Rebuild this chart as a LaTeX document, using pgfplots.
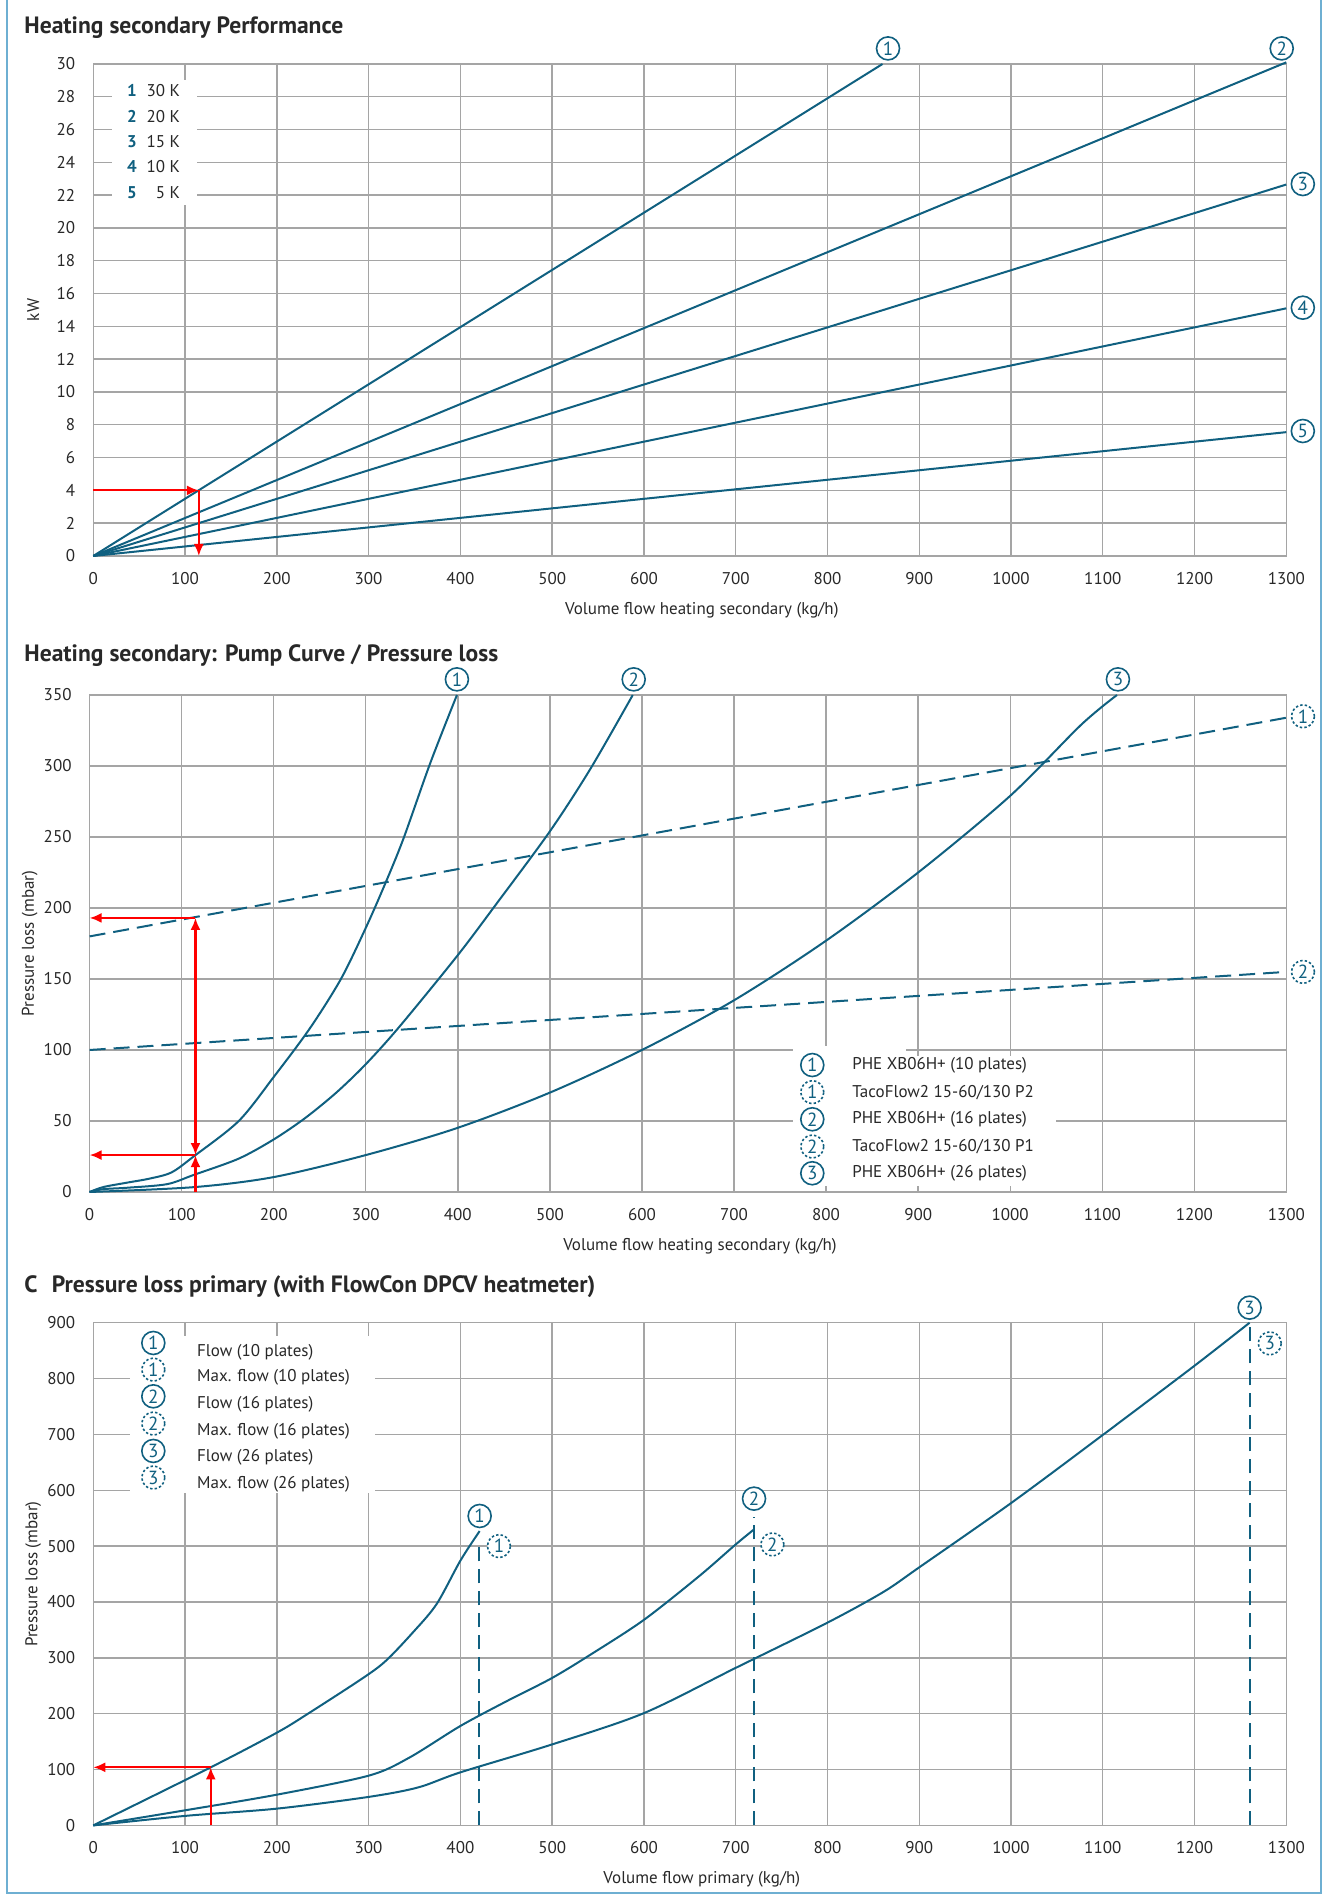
\documentclass[border=0pt]{standalone}
\usepackage{fontspec}
\setmainfont{PT Sans}
\usepackage{pgfplots}
\pgfplotsset{compat=1.18}
\usetikzlibrary{arrows.meta}

\definecolor{lc}{RGB}{16,96,128}
\definecolor{gridc}{RGB}{165,165,165}
\definecolor{textc}{RGB}{40,40,40}
\definecolor{framec}{RGB}{110,175,210}

\pgfplotsset{
  panel/.style={
    scale only axis, anchor=south west, clip=false,
    xmin=0, xmax=1300, xtick={0,100,...,1300},
    grid=major, grid style={gridc, line width=0.7pt},
    axis line style={gridc, line width=0.7pt},
    major tick length=0pt,
    tick label style={font=\fontsize{8.5}{10}\selectfont, text=textc},
    /pgf/number format/assume math mode=true,
    /pgf/number format/1000 sep={},
    scaled ticks=false,
    yticklabel style={xshift=-5.5pt},
    xticklabel style={yshift=-4.5pt},
    every axis x label/.style={at={(axis description cs:0.5,0)}, anchor=center,
      yshift=-27pt, xshift=6pt, font=\fontsize{8.5}{10}\selectfont, text=textc},
    every axis y label/.style={at={([xshift=-30pt]axis description cs:0,0.5)},
      rotate=90, anchor=center, font=\fontsize{8.5}{10}\selectfont, text=textc},
  },
  curve/.style={lc, line width=1pt, no markers},
  scurve/.style={lc, line width=1pt, no markers, smooth, tension=0.5},
  pump/.style={lc, line width=1pt, no markers, dash pattern=on 8pt off 4pt},
  maxf/.style={lc, line width=1pt, no markers, dash pattern=on 7pt off 4pt},
  redarr/.style={red, line width=1.1pt, no markers, -{Latex[length=6pt,width=5pt]}},
}
\tikzset{
  circ/.style={circle, draw=lc, line width=0.8pt, text=lc, inner sep=0pt,
    minimum size=11.5pt, font=\fontsize{9.5}{10}\selectfont},
  dcirc/.style={circ, dash pattern=on 1.2pt off 1.1pt},
  lab/.style={font=\fontsize{8.5}{10}\selectfont, text=textc, inner sep=0pt},
  ttl/.style={font=\fontsize{11.8}{13}\selectfont\bfseries, text=textc, anchor=west, inner sep=0pt},
}

\begin{document}
\begin{tikzpicture}
\path[use as bounding box] (0,0) rectangle (662pt,949.5pt);
\draw[framec, line width=0.8pt] (3.5pt,952pt) -- (3.5pt,3pt) -- (660.5pt,3pt) -- (660.5pt,952pt);

\node[ttl] at (12pt,935.5pt) {Heating secondary Performance};
\node[ttl] at (12pt,621.5pt) {Heating secondary: Pump Curve / Pressure loss};
\node[ttl] at (12pt,306pt) {C\hspace{0.6em}Pressure loss primary (with FlowCon DPCV heatmeter)};

% ---- panel 1: performance
\begin{axis}[panel, at={(46.65pt,671.5pt)}, width=596.5pt, height=246pt,
  ymin=0, ymax=30, ytick={0,2,...,30},
  xlabel={Volume flow heating secondary (kg/h)}, ylabel={kW}]
\addplot[curve] coordinates {(0,0) (860,30)};
\addplot[curve] coordinates {(0,0) (1300,30.1)};
\addplot[curve] coordinates {(0,0) (1300,22.65)};
\addplot[curve] coordinates {(0,0) (1300,15.1)};
\addplot[curve] coordinates {(0,0) (1300,7.55)};
\addplot[redarr] coordinates {(0,4) (115,4)};
\addplot[redarr] coordinates {(115,4) (115,0)};
\fill[white] (axis cs:20,21.4) rectangle (axis cs:113,29.0);
\node[lab, text=lc] at (axis cs:42,28.37) {\bfseries 1};
\node[lab, text=lc] at (axis cs:42,26.79) {\bfseries 2};
\node[lab, text=lc] at (axis cs:42,25.26) {\bfseries 3};
\node[lab, text=lc] at (axis cs:42,23.74) {\bfseries 4};
\node[lab, text=lc] at (axis cs:42,22.18) {\bfseries 5};
\node[lab, anchor=east] at (axis cs:95,28.37) {30 K};
\node[lab, anchor=east] at (axis cs:95,26.79) {20 K};
\node[lab, anchor=east] at (axis cs:95,25.26) {15 K};
\node[lab, anchor=east] at (axis cs:95,23.74) {10 K};
\node[lab, anchor=east] at (axis cs:95,22.18) {5 K};
\node[circ, fill=white] at (axis cs:866,30.95) {1};
\node[circ, fill=white] at (axis cs:1295,30.95) {2};
\node[circ, fill=white] at (axis cs:1318,22.68) {3};
\node[circ, fill=white] at (axis cs:1318,15.14) {4};
\node[circ, fill=white] at (axis cs:1318,7.62) {5};
\end{axis}

% ---- panel 2: pump curve / pressure loss
\begin{axis}[panel, at={(44.8pt,353.5pt)}, width=598.4pt, height=248.5pt,
  ymin=0, ymax=350, ytick={0,50,...,350},
  xlabel={Volume flow heating secondary (kg/h)}, ylabel={Pressure loss (mbar)}]
\addplot[scurve] coordinates {(0,0) (15,3.5) (40,6.5) (65,9.4) (89,13.8)
  (113,25) (162,50) (200,81) (239,115) (273,150) (300,186)
  (321,217) (341,249) (370,302) (399,350)};
\addplot[scurve] coordinates {(0,0) (15,2) (41,3) (84,5.5) (113,12)
  (162,23.5) (200,37) (234,52) (268,70) (300,90) (336,116) (399,166) (442,203)
  (500,254) (544,298) (590,350)};
\addplot[scurve] coordinates {(0,0) (113,3.4) (200,10.5) (300,26) (399,45)
  (500,70) (600,100) (700,135) (800,177) (900,225)
  (1000,279) (1077,329) (1116,350)};
\addplot[pump] coordinates {(0,180) (1300,334)};
\addplot[pump] coordinates {(0,100) (1300,155)};
\addplot[redarr] coordinates {(115,0) (115,26)};
\addplot[redarr, {Latex[length=6pt,width=5pt]}-{Latex[length=6pt,width=5pt]}] coordinates {(115,26) (115,193)};
\addplot[redarr] coordinates {(115,193) (0,193)};
\addplot[redarr] coordinates {(115,26) (0,26)};
\fill[white] (axis cs:764,4) rectangle (axis cs:1050,96);
\fill[white] (axis cs:764,96) rectangle (axis cs:887,103);
\node[circ] at (axis cs:785,89.4) {1};
\node[dcirc] at (axis cs:785,70.3) {1};
\node[circ] at (axis cs:785,51.2) {2};
\node[dcirc] at (axis cs:785,32.0) {2};
\node[circ] at (axis cs:785,13.2) {3};
\node[lab, anchor=west] at (axis cs:828,89.4) {PHE XB06H+ (10 plates)};
\node[lab, anchor=west] at (axis cs:828,70.3) {TacoFlow2 15-60/130 P2};
\node[lab, anchor=west] at (axis cs:828,51.2) {PHE XB06H+ (16 plates)};
\node[lab, anchor=west] at (axis cs:828,32.0) {TacoFlow2 15-60/130 P1};
\node[lab, anchor=west] at (axis cs:828,13.2) {PHE XB06H+ (26 plates)};
\node[circ, fill=white] at (axis cs:399,361) {1};
\node[circ, fill=white] at (axis cs:591,361) {2};
\node[circ, fill=white] at (axis cs:1117,361) {3};
\node[dcirc, fill=white] at (axis cs:1318,335) {1};
\node[dcirc, fill=white] at (axis cs:1318,155) {2};
\end{axis}

% ---- panel 3: primary pressure loss
\begin{axis}[panel, at={(46.65pt,36.8pt)}, width=596.5pt, height=251.35pt,
  ymin=0, ymax=900, ytick={0,100,...,900},
  xlabel={Volume flow primary (kg/h)}, ylabel={Pressure loss (mbar)}]
\addplot[scurve] coordinates {(0,0) (128,104) (200,166) (233,199) (294,264)
  (319,295) (348,345) (374,396) (400,474) (421,527)};
\addplot[scurve] coordinates {(0,0) (100,27) (200,55) (300,89) (344,121)
  (400,178) (450,222) (500,264) (544,308) (600,368) (660,446) (700,503)
  (720,530)};
\addplot[scurve] coordinates {(0,0) (100,17) (200,30) (300,51) (354,68) (400,95)
  (500,145) (600,201) (700,282) (800,363) (861,418)
  (900,462) (1000,577) (1100,699) (1200,823) (1260,900)};
\addplot[maxf] coordinates {(420,0) (420,503)};
\addplot[maxf] coordinates {(720,0) (720,553)};
\addplot[maxf] coordinates {(1260,0) (1260,900)};
\addplot[redarr] coordinates {(128,0) (128,104)};
\addplot[redarr] coordinates {(128,104) (0,104)};
\fill[white] (axis cs:40,595) rectangle (axis cs:307,877);
\node[circ] at (axis cs:65.4,863.7) {1};
\node[dcirc] at (axis cs:65.4,816.0) {1};
\node[circ] at (axis cs:65.4,768.2) {2};
\node[dcirc] at (axis cs:65.4,719.4) {2};
\node[circ] at (axis cs:65.4,670.4) {3};
\node[dcirc] at (axis cs:65.4,622.8) {3};
\node[lab, anchor=west] at (axis cs:112.7,847.6) {Flow (10 plates)};
\node[lab, anchor=west] at (axis cs:112.7,801.7) {Max. flow (10 plates)};
\node[lab, anchor=west] at (axis cs:112.7,753.4) {Flow (16 plates)};
\node[lab, anchor=west] at (axis cs:112.7,705.7) {Max. flow (16 plates)};
\node[lab, anchor=west] at (axis cs:112.7,658.6) {Flow (26 plates)};
\node[lab, anchor=west] at (axis cs:112.7,610.9) {Max. flow (26 plates)};
\node[circ, fill=white] at (axis cs:421,554) {1};
\node[dcirc, fill=white] at (axis cs:442,500) {1};
\node[circ, fill=white] at (axis cs:720,585) {2};
\node[dcirc, fill=white] at (axis cs:740,503) {2};
\node[circ, fill=white] at (axis cs:1260,927) {3};
\node[dcirc, fill=white] at (axis cs:1282,863) {3};
\end{axis}
\end{tikzpicture}
\end{document}
